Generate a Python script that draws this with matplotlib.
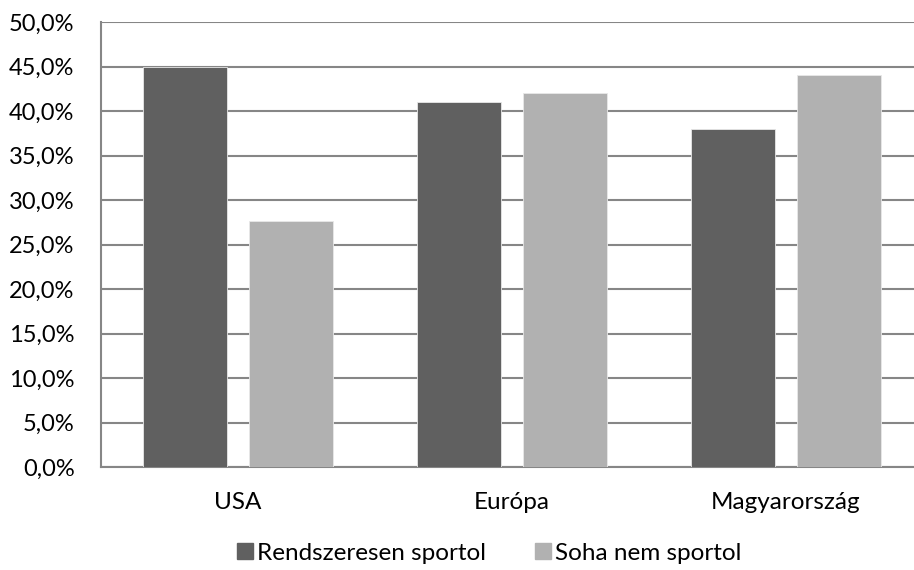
from matplotlib import pyplot as plt
from matplotlib.lines import Line2D
import numpy as np

categories = ['USA', 'Európa', 'Magyarország']
rendszeresen = [45.0, 41.0, 38.0]
soha = [27.6, 42.0, 44.0]
series_names = ['Rendszeresen sportol', 'Soha nem sportol']
yticks = [0, 5, 10, 15, 20, 25, 30, 35, 40, 45, 50]

plt.rcParams['font.family'] = ['Lato', 'DejaVu Sans']
dark = '#606060'
light = '#b1b1b1'
grid = '#868686'

fig = plt.figure(figsize=(9.14, 5.70), dpi=100)
ax = fig.add_axes([101 / 914, 103 / 570, 813 / 914, 445 / 570])

# one category is ~274 px wide, the plot runs off the right edge
x = np.arange(len(categories))
w = 0.307
off = 0.192
ax.bar(x - off, rendszeresen, w, color=dark, edgecolor='#e8e8e8', linewidth=0.6, zorder=3)
ax.bar(x + off, soha, w, color=light, edgecolor='#e8e8e8', linewidth=0.6, zorder=3)

ax.set_xlim(-0.5, 813 / 274 - 0.5)
ax.set_ylim(0, 50)
ax.set_yticks(yticks)
ax.set_yticklabels([f'{v:.1f}%'.replace('.', ',') for v in yticks])
ax.set_xticks(x)
ax.set_xticklabels(categories)
ax.yaxis.grid(True, color=grid, linewidth=1.5, zorder=0)
ax.tick_params(length=0, colors='black')
ax.tick_params(axis='y', pad=19, labelsize=17)
ax.tick_params(axis='x', pad=18, labelsize=17.5)
for s in ['top', 'right']:
    ax.spines[s].set_visible(False)
for s in ['left', 'bottom']:
    ax.spines[s].set_color(grid)
    ax.spines[s].set_linewidth(1.5)

handles = [Line2D([], [], marker='s', linestyle='', color=dark, markersize=11),
           Line2D([], [], marker='s', linestyle='', color=light, markersize=11)]
fig.legend(handles, series_names, loc='center', bbox_to_anchor=(488 / 914, 1 - 553 / 570),
           ncol=2, frameon=False, fontsize=17.5, handletextpad=0.05, columnspacing=1.9,
           handlelength=0.9, borderaxespad=0)

fig.savefig('out.png', dpi=100)
